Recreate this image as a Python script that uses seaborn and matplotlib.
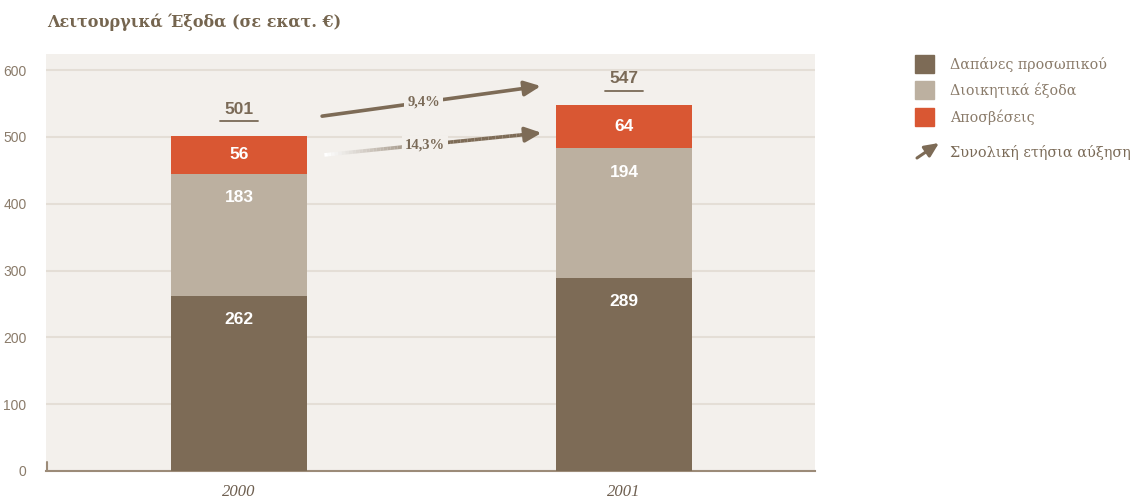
import numpy as np
import pandas as pd
import matplotlib
matplotlib.use("Agg")
import matplotlib.pyplot as plt
from matplotlib.patches import Rectangle, FancyArrowPatch
from matplotlib.collections import LineCollection
from matplotlib.colors import to_rgba
import seaborn as sns

# Operating expenses, million euro
years = ["2000", "2001"]
staff = [262, 289]
admin = [183, 194]
depreciation = [56, 64]
totals = [501, 547]
growth_total = "9,4%"
growth_depr = "14,3%"

series_names = ["Δαπάνες προσωπικού", "Διοικητικά έξοδα", "Αποσβέσεις"]
arrow_legend = "Συνολική ετήσια αύξηση"
title = "Λειτουργικά Έξοδα (σε εκατ. €)"
yticks = [0, 100, 200, 300, 400, 500, 600]

C_STAFF = "#7d6b56"
C_ADMIN = "#bcb0a0"
C_DEPR = "#d95733"
BG = "#f3f0ec"
GRID = "#e4ded6"
TXT = "#8a7b6a"
DARK = "#7a6a57"

sns.set_theme(style="white")
plt.rcParams["font.family"] = ["Liberation Sans", "DejaVu Sans"]

fig = plt.figure(figsize=(11.41, 5.03), dpi=100)
ax = fig.add_axes([46 / 1141, 1 - 471 / 503, (815 - 46) / 1141, (471 - 54) / 503])
ax.set_facecolor(BG)

df = pd.DataFrame({"year": years, "staff": staff, "admin": admin, "depr": depreciation})
df["lvl2"] = df["staff"] + df["admin"]
df["lvl3"] = df["lvl2"] + df["depr"]

width = 0.353
for col, color in [("lvl3", C_DEPR), ("lvl2", C_ADMIN), ("staff", C_STAFF)]:
    sns.barplot(data=df, x="year", y=col, color=color, width=width,
                saturation=1, ax=ax, linewidth=0, zorder=3)

ax.set_xlim(-0.501, 1.496)
ax.set_ylim(0, 624)
ax.set_yticks(yticks)
ax.set_yticklabels([str(v) for v in yticks], color=TXT, fontsize=10)
ax.yaxis.grid(True, color=GRID, linewidth=1.5, zorder=0)
ax.set_axisbelow(True)
ax.set_xlabel("")
ax.set_ylabel("")
ax.set_xticks([0, 1])
ax.set_xticklabels(years, fontsize=12, style="italic", color="#6e5f50",
                   family="Liberation Serif")
ax.tick_params(axis="x", length=0, pad=9)
ax.tick_params(axis="y", length=0, pad=14)
for s in ["top", "right", "left"]:
    ax.spines[s].set_visible(False)
ax.spines["bottom"].set_color("#9c8b78")
ax.spines["bottom"].set_linewidth(1.5)
ax.plot([-0.499, -0.499], [0, 14], color="#9c8b78", lw=1.5, clip_on=False, zorder=4)

# Segment values inside bars
for i in range(len(years)):
    segs = [(0, staff[i]), (staff[i], staff[i] + admin[i]),
            (staff[i] + admin[i], totals[i])]
    vals = [staff[i], admin[i], depreciation[i]]
    for (lo, hi), v in zip(segs, vals):
        y = max((lo + hi) / 2, hi - 36)
        ax.text(i, y, str(v), ha="center", va="center", color="white",
                fontsize=12.5, fontweight="bold", zorder=5)
    # total above bar with underline
    ax.text(i, totals[i] + 40, str(totals[i]), ha="center", va="center",
            color=DARK, fontsize=12.5, fontweight="bold", zorder=5)
    ax.plot([i - 0.05, i + 0.05], [totals[i] + 22, totals[i] + 22],
            color=DARK, lw=1.3, zorder=5)

HEAD = "-|>,head_length=0.7,head_width=0.32"

# Growth arrows
def growth_arrow(x0, y0, x1, y1, label, fade):
    if fade:
        n = 60
        xe = x1 - 0.02
        ye = y1 - (y1 - y0) * 0.02 / (x1 - x0)
        xs = np.linspace(x0, xe, n + 1)
        ys = np.linspace(y0, ye, n + 1)
        segs = [[(xs[k], ys[k]), (xs[k + 1], ys[k + 1])] for k in range(n)]
        base = np.array(to_rgba(C_STAFF))
        white = np.array(to_rgba("white"))
        cols = []
        for k in range(n):
            t = min(1.0, (k / n) / 0.55)
            cols.append(tuple(white * (1 - t) + base * t))
        ax.add_collection(LineCollection(segs, colors=cols, linewidths=2.6, zorder=4))
        ax.add_patch(FancyArrowPatch((x1 - 0.04, y1 - (y1 - y0) * 0.04 / (x1 - x0)),
                                     (x1, y1), arrowstyle=HEAD, mutation_scale=14,
                                     color=C_STAFF, lw=2.6, shrinkA=0, shrinkB=0, zorder=4))
    else:
        ax.add_patch(FancyArrowPatch((x0, y0), (x1, y1), arrowstyle=HEAD,
                                     mutation_scale=14, color=C_STAFF, lw=2.6,
                                     shrinkA=0, shrinkB=0, zorder=4))
    xm, ym = (x0 + x1) / 2 - 0.02, (y0 + y1) / 2 - 2
    ax.text(xm, ym, label, ha="center", va="center", color=DARK, fontsize=10.5,
            family="Liberation Serif", fontweight="bold",
            bbox=dict(boxstyle="square,pad=0.2", fc=BG, ec="none"), zorder=5)

growth_arrow(0.216, 531, 0.784, 576, growth_total, fade=False)
growth_arrow(0.222, 473, 0.786, 506, growth_depr, fade=True)

# Title
fig.text(47 / 1141, 1 - 22 / 503, title, ha="left", va="center", color="#75654f",
         fontsize=11.5, fontweight="bold", family="DejaVu Serif")

# Legend
leg_items = [(C_STAFF, series_names[0], 64), (C_ADMIN, series_names[1], 90),
             (C_DEPR, series_names[2], 117)]
for color, name, yc in leg_items:
    fig.patches.append(Rectangle((915 / 1141, 1 - (yc + 9) / 503), 19 / 1141, 18 / 503,
                                 transform=fig.transFigure, color=color))
    fig.text(950 / 1141, 1 - yc / 503, name, ha="left", va="center", color=TXT,
             fontsize=10.3, family="DejaVu Serif")
fig.patches.append(FancyArrowPatch((917 / 1141, 1 - 158 / 503), (939 / 1141, 1 - 143 / 503),
                                   transform=fig.transFigure, arrowstyle=HEAD,
                                   mutation_scale=12, color=C_STAFF, lw=2.2,
                                   shrinkA=0, shrinkB=0))
fig.text(950 / 1141, 1 - 153 / 503, arrow_legend, ha="left", va="center", color=DARK,
         fontsize=10.4, family="DejaVu Serif")

fig.savefig("out.png", dpi=100)
